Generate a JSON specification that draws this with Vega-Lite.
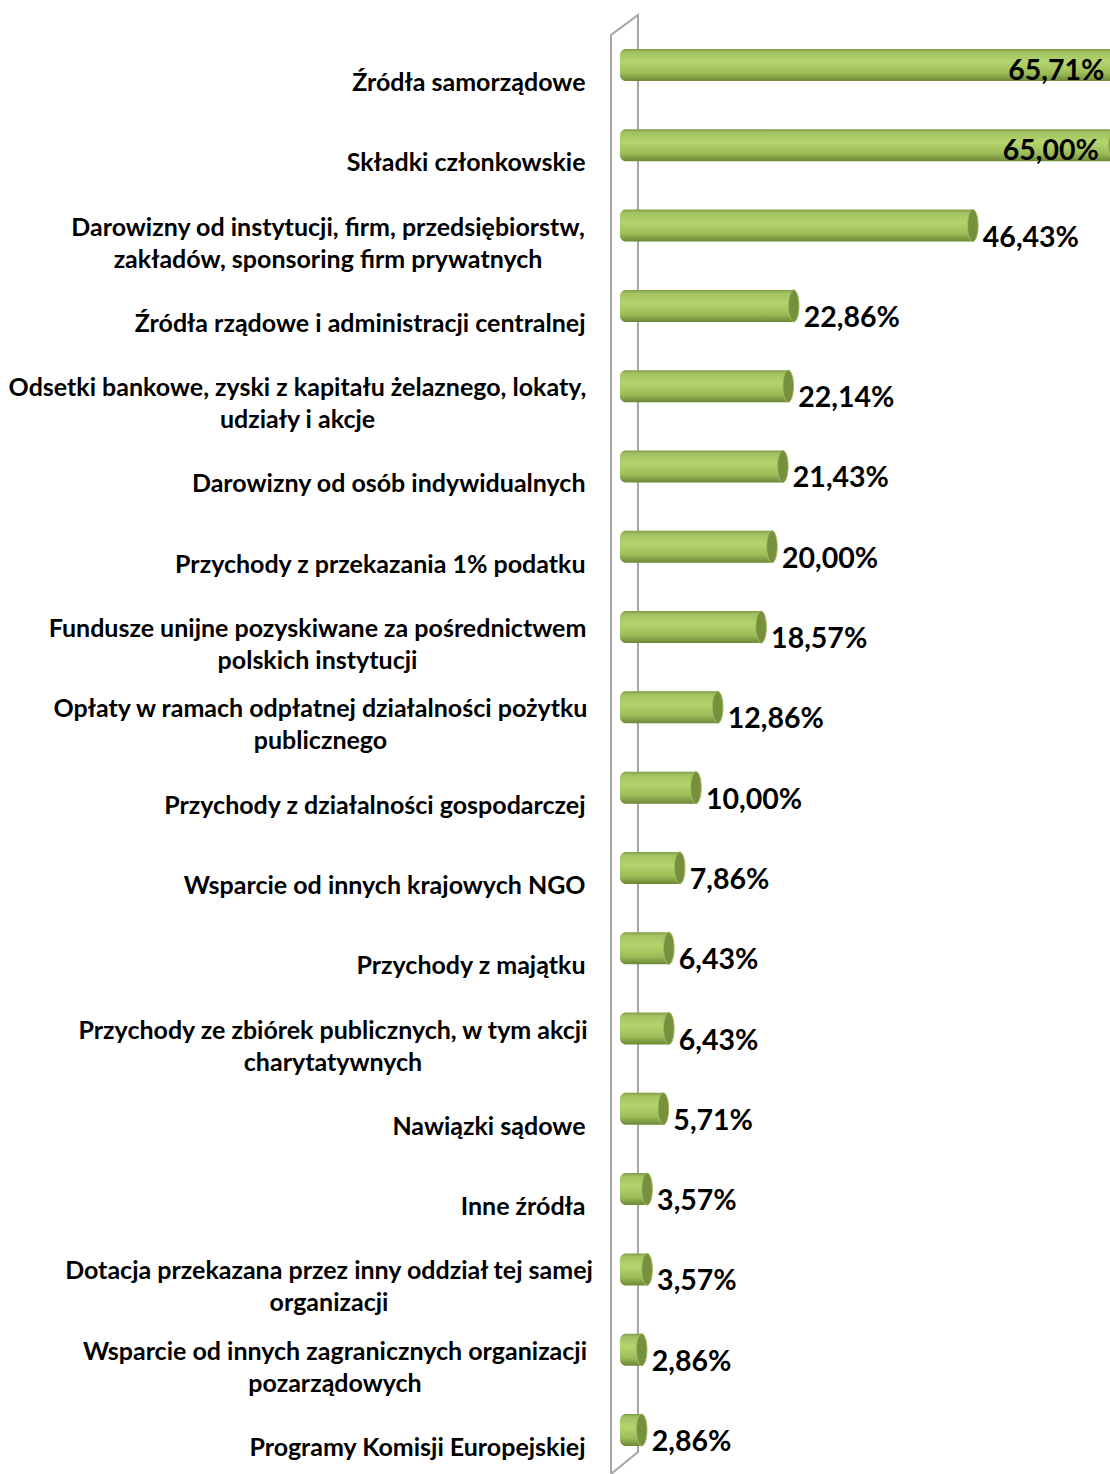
{
  "$schema": "https://vega.github.io/schema/vega-lite/v6.json",
  "width": 499,
  "height": 1459,
  "autosize": {"type": "none"},
  "padding": {"left": 611, "top": 15, "right": 0, "bottom": 0},
  "config": {
    "view": {"stroke": null},
    "font": "Lato",
    "locale": {"number": {"decimal": ",", "thousands": " ", "grouping": [3], "currency": ["", " zł"]}}
  },
  "datasets": {
    "bars": [
      {"cat": "Źródła samorządowe", "v": 0.6571},
      {"cat": "Składki członkowskie", "v": 0.65},
      {"cat": "Darowizny od instytucji, firm, przedsiębiorstw,|zakładów, sponsoring firm prywatnych", "v": 0.4643},
      {"cat": "Źródła rządowe i administracji centralnej", "v": 0.2286},
      {"cat": "Odsetki bankowe, zyski z kapitału żelaznego, lokaty,|udziały i akcje", "v": 0.2214},
      {"cat": "Darowizny od osób indywidualnych", "v": 0.2143},
      {"cat": "Przychody z przekazania 1% podatku", "v": 0.2},
      {"cat": "Fundusze unijne pozyskiwane za pośrednictwem|polskich instytucji", "v": 0.1857},
      {"cat": "Opłaty w ramach odpłatnej działalności pożytku|publicznego", "v": 0.1286},
      {"cat": "Przychody z działalności gospodarczej", "v": 0.1},
      {"cat": "Wsparcie od innych krajowych NGO", "v": 0.0786},
      {"cat": "Przychody z majątku", "v": 0.0643},
      {"cat": "Przychody ze zbiórek publicznych, w tym akcji|charytatywnych", "v": 0.0643},
      {"cat": "Nawiązki sądowe", "v": 0.0571},
      {"cat": "Inne źródła", "v": 0.0357},
      {"cat": "Dotacja przekazana przez inny oddział tej samej|organizacji", "v": 0.0357},
      {"cat": "Wsparcie od innych zagranicznych organizacji|pozarządowych", "v": 0.0286},
      {"cat": "Programy Komisji Europejskiej", "v": 0.0286}
    ],
    "wall": [
      {"wx": -0.0118, "wy": 0, "o": 1},
      {"wx": -0.0118, "wy": 98.63, "o": 2},
      {"wx": 0.0237, "wy": 100, "o": 3},
      {"wx": 0.0237, "wy": 1.51, "o": 4},
      {"wx": -0.0118, "wy": 0, "o": 5}
    ]
  },
  "layer": [
    {
      "data": {"name": "wall"},
      "mark": {"type": "line", "stroke": "#a6a6a6", "strokeWidth": 2, "clip": false},
      "encoding": {
        "x": {"field": "wx", "type": "quantitative", "scale": {"domain": [-0.0118, 0.6448], "nice": false}, "axis": null},
        "y": {"field": "wy", "type": "quantitative", "scale": {"domain": [0, 100], "nice": false}, "axis": null},
        "order": {"field": "o", "type": "quantitative"}
      }
    },
    {
      "data": {"name": "bars"},
      "encoding": {
        "y": {
          "field": "cat", "type": "nominal", "sort": null,
          "scale": {"paddingInner": 0, "paddingOuter": 0.0853, "align": 0.719},
          "axis": {
            "title": null, "domain": false, "ticks": false, "tickSize": 0,
            "labelExpr": "split(datum.label, '|')",
            "labelFont": "Lato", "labelFontWeight": "bold", "labelFontSize": 25,
            "labelColor": "#000000", "labelLimit": 800, "labelLineHeight": 32,
            "labelBaseline": "middle",
            "labelOffset": {"condition": {"test": "indexof(datum.value, '|') >= 0", "value": 2}, "value": 18},
            "labelAlign": {"condition": {"test": "indexof(datum.value, '|') >= 0", "value": "center"}, "value": "right"},
            "labelPadding": {"condition": [
              {"test": "indexof(datum.value, 'Darowizny od instytucji') == 0", "value": 283.5},
              {"test": "indexof(datum.value, 'Odsetki') == 0", "value": 314},
              {"test": "indexof(datum.value, 'Fundusze') == 0", "value": 294},
              {"test": "indexof(datum.value, 'Opłaty') == 0", "value": 291},
              {"test": "indexof(datum.value, 'Przychody ze zbiórek') == 0", "value": 278.5},
              {"test": "indexof(datum.value, 'Dotacja') == 0", "value": 282.5},
              {"test": "indexof(datum.value, 'Wsparcie od innych zagranicznych') == 0", "value": 276.5}
            ], "value": 26}
          }
        },
        "x": {"field": "v", "type": "quantitative", "scale": {"domain": [-0.0118, 0.6448], "nice": false}, "axis": null}
      },
      "layer": [
        {
          "mark": {
            "type": "bar", "height": 32, "clip": true,
            "cornerRadiusTopLeft": 6, "cornerRadiusBottomLeft": 6,
            "fill": {"gradient": "linear", "x1": 0, "y1": 0, "x2": 0, "y2": 1, "stops": [
              {"offset": 0, "color": "#7f9c45"},
              {"offset": 0.1, "color": "#a2c262"},
              {"offset": 0.4, "color": "#b4d46e"},
              {"offset": 0.75, "color": "#9dbd58"},
              {"offset": 1, "color": "#6c8737"}
            ]}
          },
          "encoding": {"x2": {"datum": 0}}
        },
        {
          "mark": {
            "type": "point", "shape": "M0,-1A0.33,1 0 1,1 0,1A0.33,1 0 1,1 0,-1Z",
            "size": 1024, "filled": true, "fill": "#76903e", "stroke": "#9ebd5c", "strokeWidth": 1, "opacity": 1, "clip": true
          }
        },
        {
          "transform": [{"filter": "datum.v < 0.6"}],
          "mark": {"type": "text", "align": "left", "baseline": "middle", "dx": 10, "dy": 12, "fontSize": 28.5, "fontWeight": "bold", "font": "Lato", "color": "#000000"},
          "encoding": {"text": {"field": "v", "type": "quantitative", "format": ".2%"}}
        },
        {
          "transform": [{"filter": "datum.v >= 0.6"}],
          "mark": {"type": "text", "align": "right", "baseline": "middle", "dx": -15, "dy": 6, "fontSize": 28.5, "fontWeight": "bold", "font": "Lato", "color": "#000000"},
          "encoding": {"text": {"field": "v", "type": "quantitative", "format": ".2%"}}
        }
      ]
    }
  ],
  "resolve": {"scale": {"y": "independent"}}
}
